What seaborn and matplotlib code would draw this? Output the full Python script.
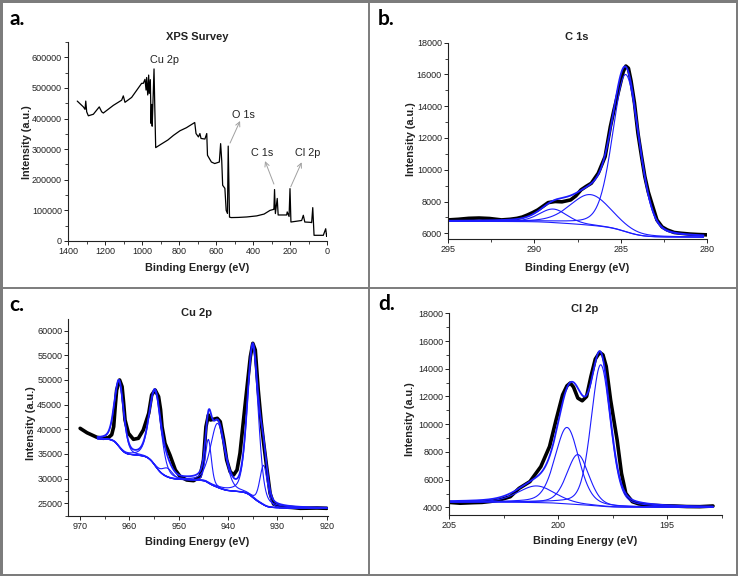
import numpy as np
import matplotlib
matplotlib.use("Agg")
import matplotlib.pyplot as plt
import seaborn as sns
from matplotlib.ticker import MultipleLocator, StrMethodFormatter
from matplotlib.patches import Rectangle
from matplotlib.lines import Line2D

sns.set_theme(style="ticks")
plt.rcParams["font.family"] = ["Liberation Sans", "DejaVu Sans"]

# ---------------- data ----------------
# (a) survey spectrum
survey_E = [1350, 1317, 1308, 1304, 1299, 1290, 1263, 1231, 1218, 1209, 1155, 1110, 1101, 1092,
            1056, 1002, 993, 984, 978, 975, 969, 964, 961, 955, 951, 948, 945, 942, 935, 931, 926,
            900, 860, 830, 795, 760, 723, 715, 708, 695, 687, 681, 660, 650, 646, 625, 607, 582,
            575, 569, 564, 552, 545, 538, 534, 527, 518, 480, 434, 380, 340, 308, 290, 287, 283.6,
            279, 269, 264, 218, 215, 205, 200, 195, 160, 137, 128, 120, 90, 83, 77, 70, 40, 20, 7, 2, 0]
survey_I = [457000, 438000, 430000, 457000, 422000, 409000, 414000, 438000, 422000, 418000,
            443000, 460000, 474000, 453000, 469000, 515000, 515000, 528000, 493000, 534000, 477000,
            542000, 482000, 527000, 384000, 446000, 375000, 430000, 562000, 440000, 305000,
            315000, 330000, 345000, 360000, 370000, 384000, 387000, 351000, 340000, 351000,
            335000, 333000, 351000, 280000, 258000, 253000, 258000, 318000, 262000, 182000,
            172000, 100000, 90000, 310000, 78000, 76500, 77000, 78500, 82000, 88000, 100000,
            103000, 103000, 168000, 89600, 139000, 85000, 85000, 95000, 80000, 171000, 62000,
            65000, 67000, 84000, 62000, 61000, 60000, 109000, 18600, 18600, 18600, 40000, 15000, 22000]
survey_labels = ["Cu 2p", "O 1s", "C 1s", "Cl 2p"]

# (b) C 1s
c1s_E = [295.0, 294.4, 293.8, 293.2, 292.6, 291.9, 291.4, 291.0, 290.7, 290.4, 290.1, 289.8, 289.5,
         289.2, 288.8, 288.4, 287.9, 287.6, 287.3, 287.0, 286.7, 286.3, 285.9, 285.6, 285.4, 285.2,
         285.0, 284.85, 284.7, 284.55, 284.4, 284.2, 284.0, 283.8, 283.6, 283.4, 283.2, 282.9, 282.6,
         282.3, 281.9, 281.5, 281.0, 280.5, 280.0]
c1s_I = [6840, 6880, 6940, 6960, 6930, 6840, 6880, 6940, 7020, 7150, 7300, 7470, 7700, 7930, 8000,
         7980, 8100, 8350, 8730, 8950, 9150, 9780, 10830, 12700, 13700, 14600, 15500, 16180, 16530,
         16390, 15600, 14200, 12300, 10900, 9570, 8600, 7890, 6840, 6400, 6210, 6050, 6000, 5950,
         5920, 5900]
c1s_center = [284.7, 286.75, 288.9]
c1s_height = [9900, 1930, 850]
c1s_fwhm = [1.8, 2.8, 1.9]
c1s_step = [650, 250, 100]
c1s_bg_low = 5750

# (c) Cu 2p
cu_E = [970.0, 968.6, 966.6, 965.3, 964.3, 963.6, 963.2, 962.9, 962.6, 962.0, 961.5, 961.2, 960.9,
        960.2, 959.2, 958.2, 957.2, 956.1, 955.5, 954.8, 954.1, 953.7, 953.4, 952.8, 951.8, 950.7,
        949.7, 948.4, 947.0, 945.7, 945.0, 944.5, 944.0, 943.6, 943.0, 942.2, 941.6, 940.9, 940.3,
        939.6, 938.9, 938.2, 937.6, 936.6, 935.5, 935.0, 934.5, 933.9, 933.3, 932.8, 932.2, 931.5,
        930.8, 929.5, 927.0, 925.4, 922.0, 920.0]
cu_I = [40200, 39300, 38380, 38180, 38300, 38900, 40540, 44500, 47970, 50000, 48650, 45500, 41890,
        39190, 37970, 38180, 39860, 43240, 46960, 47970, 46620, 44000, 40540, 37160, 34800, 31760,
        30410, 29730, 29590, 30410, 33780, 40540, 42910, 41890, 42030, 42230, 41550, 37840, 33780,
        31420, 30740, 31760, 35140, 44600, 54730, 57430, 56080, 47970, 41500, 37160, 32430, 27030,
        24860, 24320, 24150, 23990, 24050, 23990]
cu_center = [932.8, 935.0, 942.1, 944.0, 952.3, 954.8, 962.1]
cu_height = [8000, 30600, 13000, 8800, 1800, 15100, 13300]
cu_fwhm = [1.8, 2.6, 3.4, 1.4, 2.5, 2.8, 2.2]
cu_step = [900, 2500, 1500, 800, 600, 4500, 3300]
cu_bg_low = 24000

# (d) Cl 2p
cl_E = [205.0, 204.5, 203.9, 203.5, 203.1, 202.7, 202.2, 201.8, 201.3, 200.8, 200.4, 200.1, 199.8,
        199.6, 199.45, 199.3, 199.1, 198.9, 198.7, 198.5, 198.3, 198.1, 197.95, 197.8, 197.6, 197.3,
        197.1, 196.9, 196.6, 196.3, 195.9, 195.3, 194.7, 194.1, 193.5, 192.9]
cl_I = [4360, 4300, 4340, 4360, 4430, 4530, 4770, 5370, 5860, 6940, 8390, 10310, 12120, 12770,
        12970, 12680, 11880, 11690, 12000, 13450, 14700, 15180, 15010, 14170, 11760, 8870, 6460,
        5010, 4410, 4250, 4170, 4120, 4100, 4060, 4050, 4100]
cl_center = [198.05, 199.1, 199.6, 201.0]
cl_height = [10200, 3600, 5500, 1200]
cl_fwhm = [1.05, 1.2, 1.3, 2.0]
cl_step = [150, 80, 100, 50]
cl_bg_low = 4000

BLUE = "#1c1cff"
INK = "#222222"
W, H = 738, 576

fig = plt.figure(figsize=(W / 100, H / 100), dpi=100)


def add_ax(l, t, r, b):
    return fig.add_axes([l / W, 1 - b / H, (r - l) / W, (b - t) / H])


def ftext(x, y, s, **kw):
    return fig.text(x / W, 1 - y / H, s, **kw)


def pv(E, c, h, w, eta):
    x = (E - c) / w
    return h * (eta / (1 + 4 * x ** 2) + (1 - eta) * np.exp(-4 * np.log(2) * x ** 2))


def fit_curves(lo, hi, centers, heights, fwhms, eta, bg_low, steps):
    E = np.linspace(lo, hi, 700)
    comps = [pv(E, c, h, w, eta) for c, h, w in zip(centers, heights, fwhms)]
    bg = np.full_like(E, float(bg_low))
    for p, s in zip(comps, steps):
        cum = np.cumsum(p)
        bg = bg + s * cum / cum[-1]
    return E, bg, comps


def style(ax, xmaj, xmin, ymaj, ymin):
    for s in ["top", "right"]:
        ax.spines[s].set_visible(False)
    for s in ["left", "bottom"]:
        ax.spines[s].set_color(INK)
        ax.spines[s].set_linewidth(0.8)
    ax.xaxis.set_major_locator(MultipleLocator(xmaj))
    ax.xaxis.set_minor_locator(MultipleLocator(xmin))
    ax.yaxis.set_major_locator(MultipleLocator(ymaj))
    ax.yaxis.set_minor_locator(MultipleLocator(ymin))
    ax.xaxis.set_major_formatter(StrMethodFormatter("{x:.0f}"))
    ax.yaxis.set_major_formatter(StrMethodFormatter("{x:.0f}"))
    ax.tick_params(which="major", direction="out", length=3.2, width=0.7, color=INK,
                   labelsize=6.5, labelcolor=INK, pad=1.2)
    ax.tick_params(which="minor", direction="out", length=2.0, width=0.6, color=INK)
    ax.set_facecolor("white")


def labels(ax, box, title, tpos, xlpos, ylpos):
    l, t, r, b = box
    ax.set_xlabel("Binding Energy (eV)", fontsize=7.8, fontweight="bold", color=INK)
    ax.set_ylabel("Intensity (a.u.)", fontsize=7.8, fontweight="bold", color=INK)
    ax.xaxis.label.set_va("center")
    ax.yaxis.label.set_va("center")
    ax.xaxis.set_label_coords((xlpos[0] - l) / (r - l), (b - xlpos[1]) / (b - t))
    ax.yaxis.set_label_coords((ylpos[0] - l) / (r - l), (b - ylpos[1]) / (b - t))
    ax.text((tpos[0] - l) / (r - l), (b - tpos[1]) / (b - t), title, transform=ax.transAxes,
            ha="center", va="center", fontsize=8, fontweight="bold", color=INK)


def draw_fit(ax, dE, dI, lo, hi, centers, heights, fwhms, eta, bg_low, steps):
    sns.lineplot(x=dE, y=dI, ax=ax, color="black", linewidth=2.6, sort=False, estimator=None)
    E, bg, comps = fit_curves(lo, hi, centers, heights, fwhms, eta, bg_low, steps)
    sns.lineplot(x=E, y=bg, ax=ax, color=BLUE, linewidth=0.8, sort=False, estimator=None)
    for p in comps:
        sns.lineplot(x=E, y=bg + p, ax=ax, color=BLUE, linewidth=0.8, sort=False, estimator=None)
    sns.lineplot(x=E, y=bg + np.sum(comps, axis=0), ax=ax, color=BLUE, linewidth=1.3,
                 sort=False, estimator=None)


# ---------------- panel a ----------------
box_a = (68, 42, 327, 241)
ax_a = add_ax(*box_a)
sns.lineplot(x=survey_E, y=survey_I, ax=ax_a, color="black", linewidth=0.9, sort=False, estimator=None)
ax_a.set_xlim(1400, 0)
ax_a.set_ylim(0, 650000)
style(ax_a, 200, 100, 100000, 50000)
labels(ax_a, box_a, "XPS Survey", (197.5, 36.5), (197.5, 268), (27, 142))

arrow_kw = dict(arrowstyle="->", color="#a0a0a0", lw=0.7, shrinkA=0, shrinkB=0, mutation_scale=8)
ann_text_pos = [(881, 591000), (449, 410000), (351, 287000), (103, 289000)]
ann_arrows = [None, ((524, 320000), (470, 392000)), ((287, 186000), (335, 261000)),
              ((196, 177000), (137, 257000))]
for lab, tp, arr in zip(survey_labels, ann_text_pos, ann_arrows):
    ax_a.text(tp[0], tp[1], lab, ha="center", va="center", fontsize=7.8, color=INK)
    if arr is not None:
        ax_a.annotate("", xy=arr[1], xytext=arr[0], arrowprops=arrow_kw)

# ---------------- panel b ----------------
box_b = (448, 42.7, 707, 239.3)
ax_b = add_ax(*box_b)
draw_fit(ax_b, c1s_E, c1s_I, 280.2, 295.0, c1s_center, c1s_height, c1s_fwhm, 0.25, c1s_bg_low, c1s_step)
ax_b.set_xlim(295, 280)
ax_b.set_ylim(5620, 18000)
style(ax_b, 5, 2.5, 2000, 1000)
labels(ax_b, box_b, "C 1s", (577, 36.5), (577, 268), (410.5, 139))

# ---------------- panel c ----------------
box_c = (68.3, 319.3, 328.3, 516)
ax_c = add_ax(*box_c)
draw_fit(ax_c, cu_E, cu_I, 920.0, 966.5, cu_center, cu_height, cu_fwhm, 0.3, cu_bg_low, cu_step)
ax_c.set_xlim(972.4, 919.7)
ax_c.set_ylim(22430, 62300)
style(ax_c, 10, 5, 5000, 2500)
labels(ax_c, box_c, "Cu 2p", (197, 312.5), (197, 542), (31, 423))

# ---------------- panel d ----------------
box_d = (449.3, 313.3, 721.7, 515)
ax_d = add_ax(*box_d)
draw_fit(ax_d, cl_E, cl_I, 192.9, 205.0, cl_center, cl_height, cl_fwhm, 0.3, cl_bg_low, cl_step)
ax_d.set_xlim(205, 192.5)
ax_d.set_ylim(3450, 18000)
style(ax_d, 5, 2.5, 2000, 1000)
labels(ax_d, box_d, "Cl 2p", (584.5, 308.5), (585.5, 541), (410, 419))

# ---------------- panel letters & frame ----------------
for lab, (x, y) in zip(["a.", "b.", "c.", "d."], [(9, 25), (378, 25), (9, 311), (378, 310)]):
    ftext(x, y, lab, ha="left", va="baseline", fontsize=15, fontweight="bold",
          family=["Lato", "DejaVu Sans"], color="black")

GRAY = "#7c7c7c"
fig.add_artist(Rectangle((0, 0), 1, 1, transform=fig.transFigure, fill=False, ec=GRAY, lw=3.6))
fig.add_artist(Line2D([369 / W, 369 / W], [0, 1], transform=fig.transFigure, color=GRAY, lw=1.4))
fig.add_artist(Line2D([0, 1], [1 - 287.5 / H, 1 - 287.5 / H], transform=fig.transFigure, color=GRAY, lw=1.4))

fig.savefig("out.png", dpi=100, facecolor="white")
